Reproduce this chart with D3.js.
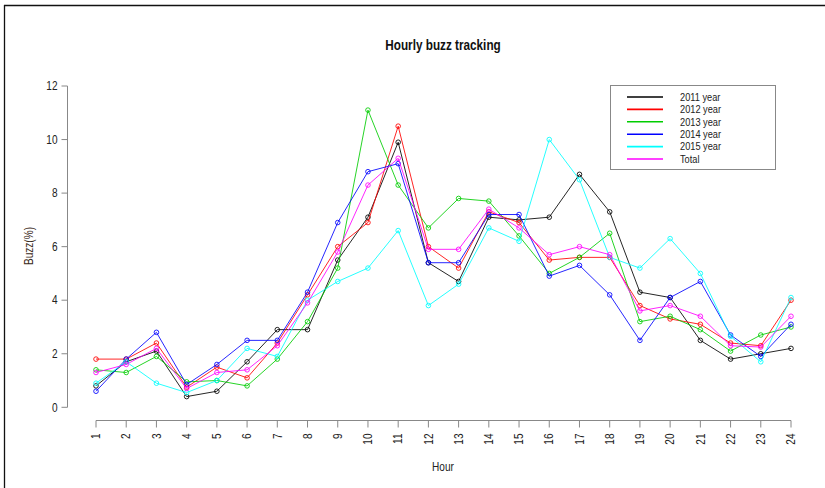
<!DOCTYPE html>
<html>
<head>
<meta charset="utf-8">
<script src="https://cdn.jsdelivr.net/npm/d3@7/dist/d3.min.js"></script>
<style>
  html, body { margin: 0; padding: 0; background: #fff; }
  svg { display: block; }
  text { font-family: "Liberation Sans", Arial, sans-serif; fill: #222; }
</style>
</head>
<body>
<svg id="chart" width="825" height="488"></svg>
<script>
const hours = [1,2,3,4,5,6,7,8,9,10,11,12,13,14,15,16,17,18,19,20,21,22,23,24];
const seriesNames = ["2011 year","2012 year","2013 year","2014 year","2015 year","Total"];
const seriesColors = ["#000000","#ff0000","#00cd00","#0000ff","#00ffff","#ff00ff"];
const y2011 = [0.8,1.7,2.1,0.4,0.6,1.7,2.9,2.9,5.5,7.1,9.9,5.4,4.7,7.1,7.0,7.1,8.7,7.3,4.3,4.1,2.5,1.8,2.0,2.2];
const y2012 = [1.8,1.8,2.4,0.75,1.5,1.1,2.4,4.2,6.0,6.9,10.5,6.0,5.2,7.3,6.9,5.5,5.6,5.6,3.8,3.3,3.1,2.4,2.3,4.0];
const y2013 = [1.4,1.3,1.9,0.95,1.0,0.8,1.8,3.2,5.2,11.1,8.3,6.7,7.8,7.7,6.4,5.0,5.6,6.5,3.2,3.4,2.9,2.1,2.7,3.0];
const y2014 = [0.6,1.8,2.8,0.85,1.6,2.5,2.5,4.3,6.9,8.8,9.1,5.4,5.4,7.2,7.2,4.9,5.3,4.2,2.5,4.1,4.7,2.7,1.9,3.1];
const y2015 = [0.9,1.7,0.9,0.55,1.0,2.2,1.9,4.0,4.7,5.2,6.6,3.8,4.6,6.7,6.2,10.0,8.5,5.6,5.2,6.3,5.0,2.65,1.7,4.1];
const yTotal = [1.3,1.6,2.2,0.7,1.3,1.4,2.3,3.9,5.8,8.3,9.3,5.9,5.9,7.4,6.7,5.7,6.0,5.7,3.6,3.8,3.4,2.3,2.25,3.4];
const yTicks = [0,2,4,6,8,10,12];
const titleText = "Hourly buzz tracking";
const xLabel = "Hour";
const yLabel = "Buzz(%)";

const allSeries = [y2011,y2012,y2013,y2014,y2015,yTotal];
const SX = 0.84; // horizontal text compression of the reference

const svg = d3.select("#chart");
const x = d3.scaleLinear().domain([1,24]).range([96,791]);
const y = d3.scaleLinear().domain([0,12]).range([407.3,86]);

function ctext(g, tx, ty, str, opts) {
  const t = g.append("g").attr("transform", `translate(${tx},${ty})${opts.rot?` rotate(${opts.rot})`:""} scale(${SX},1)`)
    .append("text").text(str)
    .attr("text-anchor", opts.anchor || "middle")
    .attr("font-size", opts.size || 12)
    .attr("font-weight", opts.weight || "normal");
  if (opts.dy) t.attr("dy", opts.dy);
  if (opts.fill) t.style("fill", opts.fill);
  return t;
}

// frame
svg.append("line").attr("x1",4.5).attr("x2",4.5).attr("y1",5).attr("y2",488).attr("stroke","#111").attr("stroke-width",1.3);
svg.append("line").attr("x1",4).attr("x2",825).attr("y1",5.5).attr("y2",5.5).attr("stroke","#111").attr("stroke-width",1.3);

// y axis
const yAxisG = svg.append("g").attr("transform","translate(67.5,0)");
yAxisG.append("line").attr("x1",0).attr("x2",0).attr("y1",y(0)).attr("y2",y(12)).attr("stroke","#888");
yTicks.forEach(v => {
  yAxisG.append("line").attr("x1",-6).attr("x2",0).attr("y1",y(v)).attr("y2",y(v)).attr("stroke","#888");
  ctext(yAxisG, -10, y(v), String(v), {anchor:"end", size:12, dy:"0.35em"});
});

// x axis
const xAxisG = svg.append("g").attr("transform","translate(0,420.5)");
xAxisG.append("line").attr("x1",x(1)).attr("x2",x(24)).attr("y1",0).attr("y2",0).attr("stroke","#888");
hours.forEach(h => {
  xAxisG.append("line").attr("x1",x(h)).attr("x2",x(h)).attr("y1",0).attr("y2",7).attr("stroke","#888");
  const gg = xAxisG.append("g").attr("transform",`translate(${x(h)},13) rotate(-90)`);
  gg.append("g").attr("transform",`scale(${SX},1)`).append("text").text(String(h))
    .attr("text-anchor","end").attr("dy","0.35em").attr("font-size",12);
});

// lines & points
const line = d3.line().x((d,i)=>x(hours[i])).y(d=>y(d));
allSeries.forEach((s, k) => {
  const g = svg.append("g");
  g.append("path").datum(s).attr("d", line).attr("fill","none")
    .attr("stroke", seriesColors[k]).attr("stroke-width",1).attr("stroke-opacity",0.85);
  g.selectAll("circle").data(s).enter().append("circle")
    .attr("cx",(d,i)=>x(hours[i])).attr("cy",d=>y(d)).attr("r",2.3)
    .attr("fill","none").attr("stroke",seriesColors[k]).attr("stroke-width",1).attr("stroke-opacity",0.85);
});

// title and axis labels
ctext(svg, 443, 50, titleText, {size:14, weight:"bold", fill:"#111"});
ctext(svg, 443, 471, xLabel, {size:12});
ctext(svg, 33, 246, yLabel, {size:12, rot:-90, fill:"#3a2a20"});

// legend
const lg = svg.append("g");
lg.append("rect").attr("x",610.5).attr("y",85.5).attr("width",165).attr("height",84)
  .attr("fill","#fff").attr("stroke","#888").attr("stroke-width",1);
seriesNames.forEach((n,k) => {
  const cy = 97 + k*12.4;
  lg.append("line").attr("x1",627).attr("x2",663).attr("y1",cy).attr("y2",cy)
    .attr("stroke",seriesColors[k]).attr("stroke-width",1.6);
  ctext(lg, 680, cy, n, {anchor:"start", size:11, dy:"0.35em"});
});
</script>
</body>
</html>
